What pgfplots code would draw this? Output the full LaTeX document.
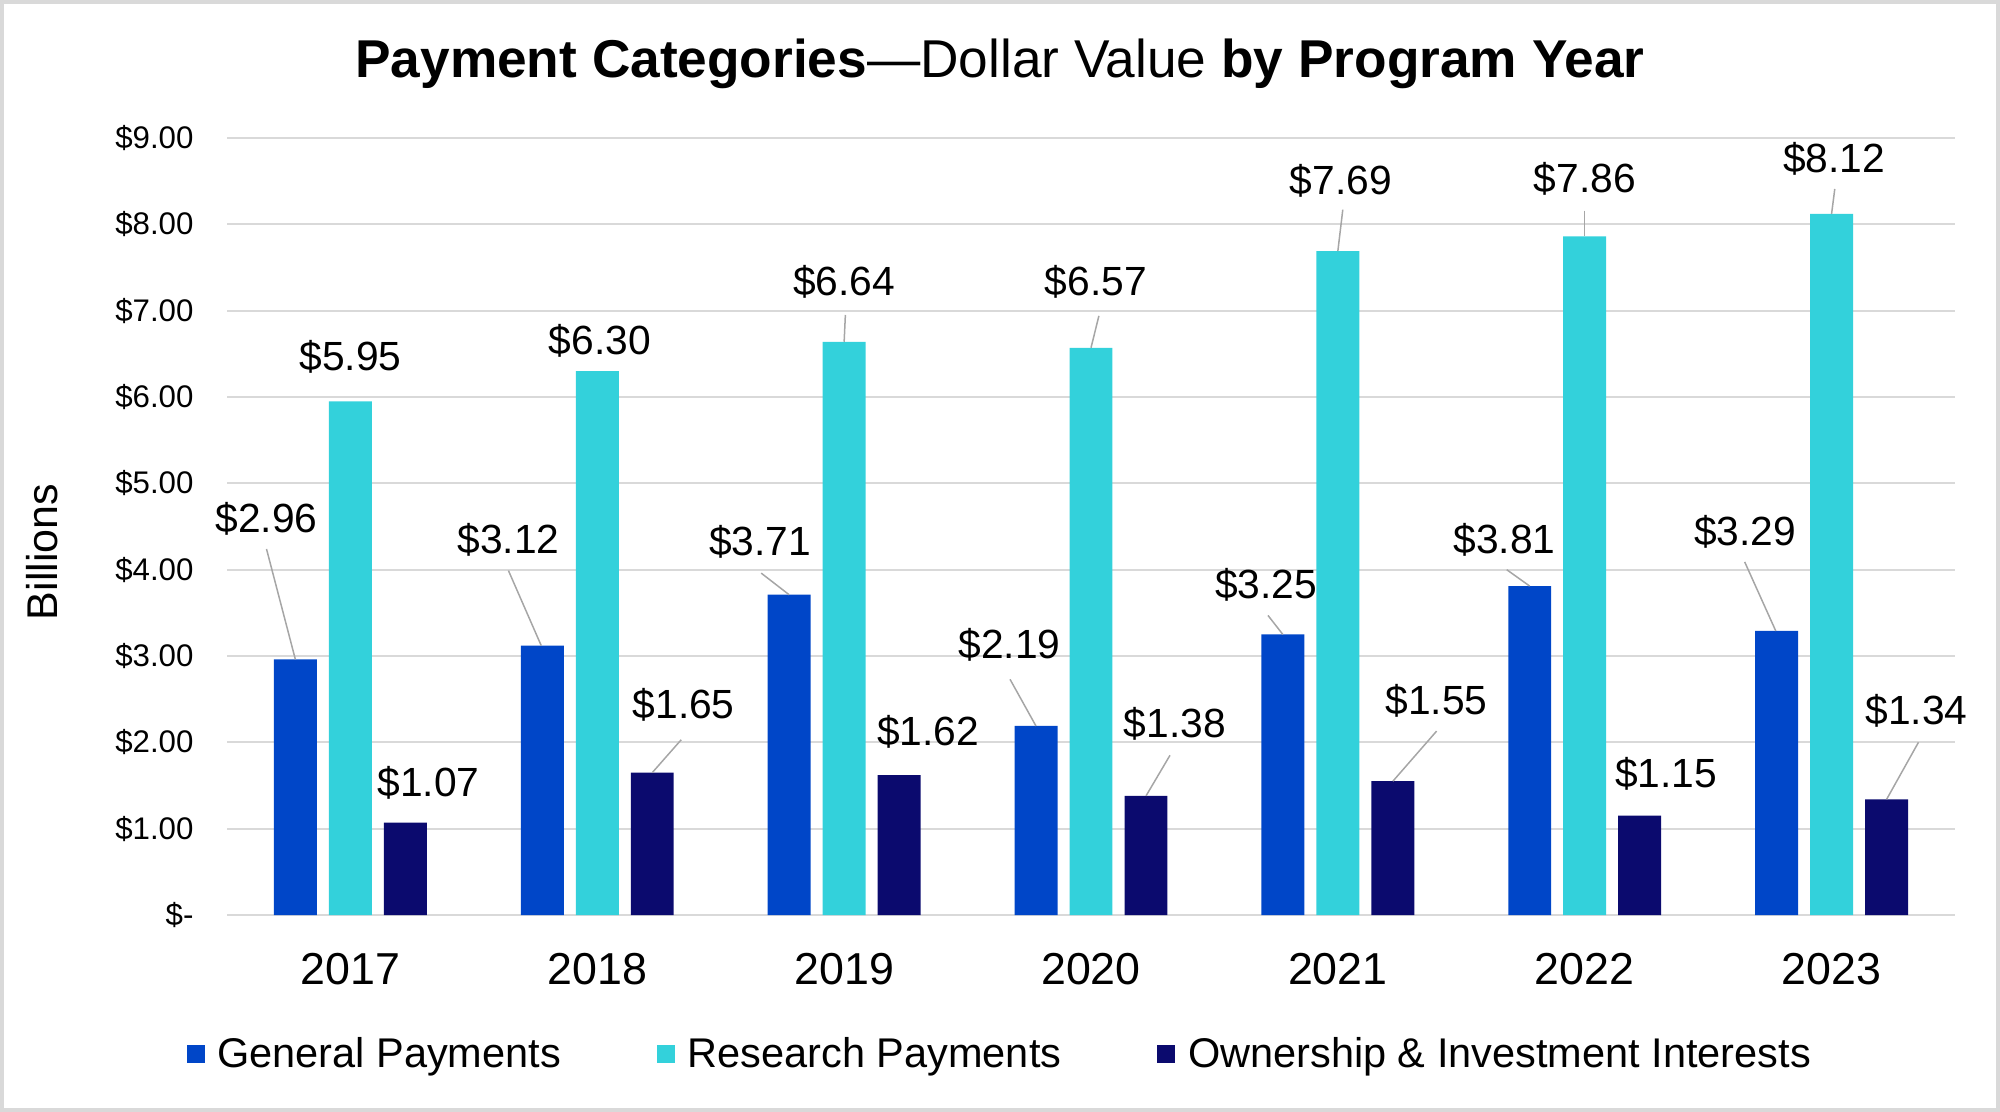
\documentclass[border=0pt]{standalone}
\usepackage{pgfplots}
\pgfplotsset{compat=1.18}
\usepackage{fontspec}
\setmainfont{Liberation Sans}
\definecolor{genblue}{HTML}{0046C8}
\definecolor{rescyan}{HTML}{33D1DB}
\definecolor{ownnavy}{HTML}{0B0A6E}
\definecolor{gridgray}{HTML}{D9D9D9}
\definecolor{leadgray}{HTML}{A6A6A6}
\pgfplotsset{sqlegend/.style={legend image code/.code={\fill[##1] (0bp,-3.6bp) rectangle (7.2bp,3.6bp);}}}
\tikzset{lab/.style={font=\fontsize{16.3bp}{19bp}\selectfont, inner sep=0pt},
  lead/.style={leadgray, line width=0.6bp}}
\begin{document}
\begin{tikzpicture}
\useasboundingbox (0,0) rectangle (800bp,444.8bp);
\draw[gridgray, line width=1.6bp] (0.8bp,0.8bp) rectangle (799.2bp,444bp);
\node[font=\fontsize{21.3bp}{25bp}\selectfont] at (400bp,419.3bp) {\textbf{Payment Categories}—Dollar Value \textbf{by Program Year}};
\node[rotate=90, font=\fontsize{17.2bp}{20bp}\selectfont] at (16.8bp,224bp) {Billions};
\begin{axis}[
  at={(90.8bp,78.8bp)}, anchor=south west,
  scale only axis, width=691.2bp, height=310.8bp,
  xmin=-0.5, xmax=6.5, ymin=0, ymax=9,
  axis line style={draw=none},
  ymajorgrids, grid style={gridgray, line width=0.8bp},
  major tick length=0pt,
  xtick={0,1,2,3,4,5,6},
  xticklabels={2017,2018,2019,2020,2021,2022,2023},
  ytick={0,1,2,3,4,5,6,7,8,9},
  yticklabels={\$-\hspace{7bp},\$1.00,\$2.00,\$3.00,\$4.00,\$5.00,\$6.00,\$7.00,\$8.00,\$9.00},
  yticklabel style={font=\fontsize{12.5bp}{14bp}\selectfont, inner sep=0pt, xshift=-13.2bp},
  xticklabel style={font=\fontsize{17.9bp}{20bp}\selectfont, inner sep=0pt, yshift=-15bp},
  clip=false,
  legend columns=3,
  legend style={at={(-0.0237,-0.1789)}, anchor=west, draw=none, fill=none, inner sep=0pt,
    font=\fontsize{16.6bp}{19bp}\selectfont, nodes={inner sep=0pt},
    /tikz/every odd column/.append style={column sep=5.1bp},
    /tikz/every even column/.append style={column sep=38.4bp}},
]
\addplot[ybar, bar width=0.174, bar shift=-0.2227, fill=genblue, draw=none, sqlegend]
  coordinates {(0,2.96) (1,3.12) (2,3.71) (3,2.19) (4,3.25) (5,3.81) (6,3.29)};
\addlegendentry{General Payments}
\addplot[ybar, bar width=0.174, bar shift=0, fill=rescyan, draw=none, sqlegend]
  coordinates {(0,5.95) (1,6.30) (2,6.64) (3,6.57) (4,7.69) (5,7.86) (6,8.12)};
\addlegendentry{Research Payments}
\addplot[ybar, bar width=0.174, bar shift=0.2227, fill=ownnavy, draw=none, sqlegend]
  coordinates {(0,1.07) (1,1.65) (2,1.62) (3,1.38) (4,1.55) (5,1.15) (6,1.34)};
\addlegendentry{Ownership \& Investment Interests}
% 2017
\draw[lead] (axis cs:-0.34,4.24) -- (axis cs:-0.223,2.96);
\node[lab] at (axis cs:-0.34,4.59) {\$2.96};
\node[lab] at (axis cs:0,6.46) {\$5.95};
\node[lab] at (axis cs:0.316,1.53) {\$1.07};
% 2018
\draw[lead] (axis cs:0.64,3.99) -- (axis cs:0.773,3.12);
\node[lab] at (axis cs:0.64,4.34) {\$3.12};
\node[lab] at (axis cs:1.01,6.65) {\$6.30};
\draw[lead] (axis cs:1.34,2.03) -- (axis cs:1.223,1.65);
\node[lab] at (axis cs:1.35,2.43) {\$1.65};
% 2019
\draw[lead] (axis cs:1.664,3.96) -- (axis cs:1.777,3.71);
\node[lab] at (axis cs:1.66,4.32) {\$3.71};
\draw[lead] (axis cs:2.005,6.95) -- (axis cs:2,6.64);
\node[lab] at (axis cs:2,7.33) {\$6.64};
\node[lab] at (axis cs:2.34,2.12) {\$1.62};
% 2020
\draw[lead] (axis cs:2.672,2.73) -- (axis cs:2.777,2.19);
\node[lab] at (axis cs:2.67,3.13) {\$2.19};
\draw[lead] (axis cs:3.032,6.94) -- (axis cs:3,6.57);
\node[lab] at (axis cs:3.02,7.33) {\$6.57};
\draw[lead] (axis cs:3.32,1.85) -- (axis cs:3.223,1.38);
\node[lab] at (axis cs:3.34,2.21) {\$1.38};
% 2021
\draw[lead] (axis cs:3.717,3.47) -- (axis cs:3.777,3.25);
\node[lab] at (axis cs:3.71,3.82) {\$3.25};
\draw[lead] (axis cs:4.02,8.17) -- (axis cs:4,7.69);
\node[lab] at (axis cs:4.012,8.50) {\$7.69};
\draw[lead] (axis cs:4.40,2.13) -- (axis cs:4.223,1.55);
\node[lab] at (axis cs:4.40,2.48) {\$1.55};
% 2022
\draw[lead] (axis cs:4.684,4.0) -- (axis cs:4.777,3.81);
\node[lab] at (axis cs:4.675,4.34) {\$3.81};
\draw[lead] (axis cs:5,8.16) -- (axis cs:5,7.86);
\node[lab] at (axis cs:5,8.53) {\$7.86};
\node[lab] at (axis cs:5.33,1.63) {\$1.15};
% 2023
\draw[lead] (axis cs:5.648,4.09) -- (axis cs:5.774,3.29);
\node[lab] at (axis cs:5.65,4.44) {\$3.29};
\draw[lead] (axis cs:6.013,8.41) -- (axis cs:6,8.12);
\node[lab] at (axis cs:6.01,8.76) {\$8.12};
\draw[lead] (axis cs:6.352,2.0) -- (axis cs:6.223,1.34);
\node[lab] at (axis cs:6.344,2.36) {\$1.34};
\end{axis}
\end{tikzpicture}
\end{document}
